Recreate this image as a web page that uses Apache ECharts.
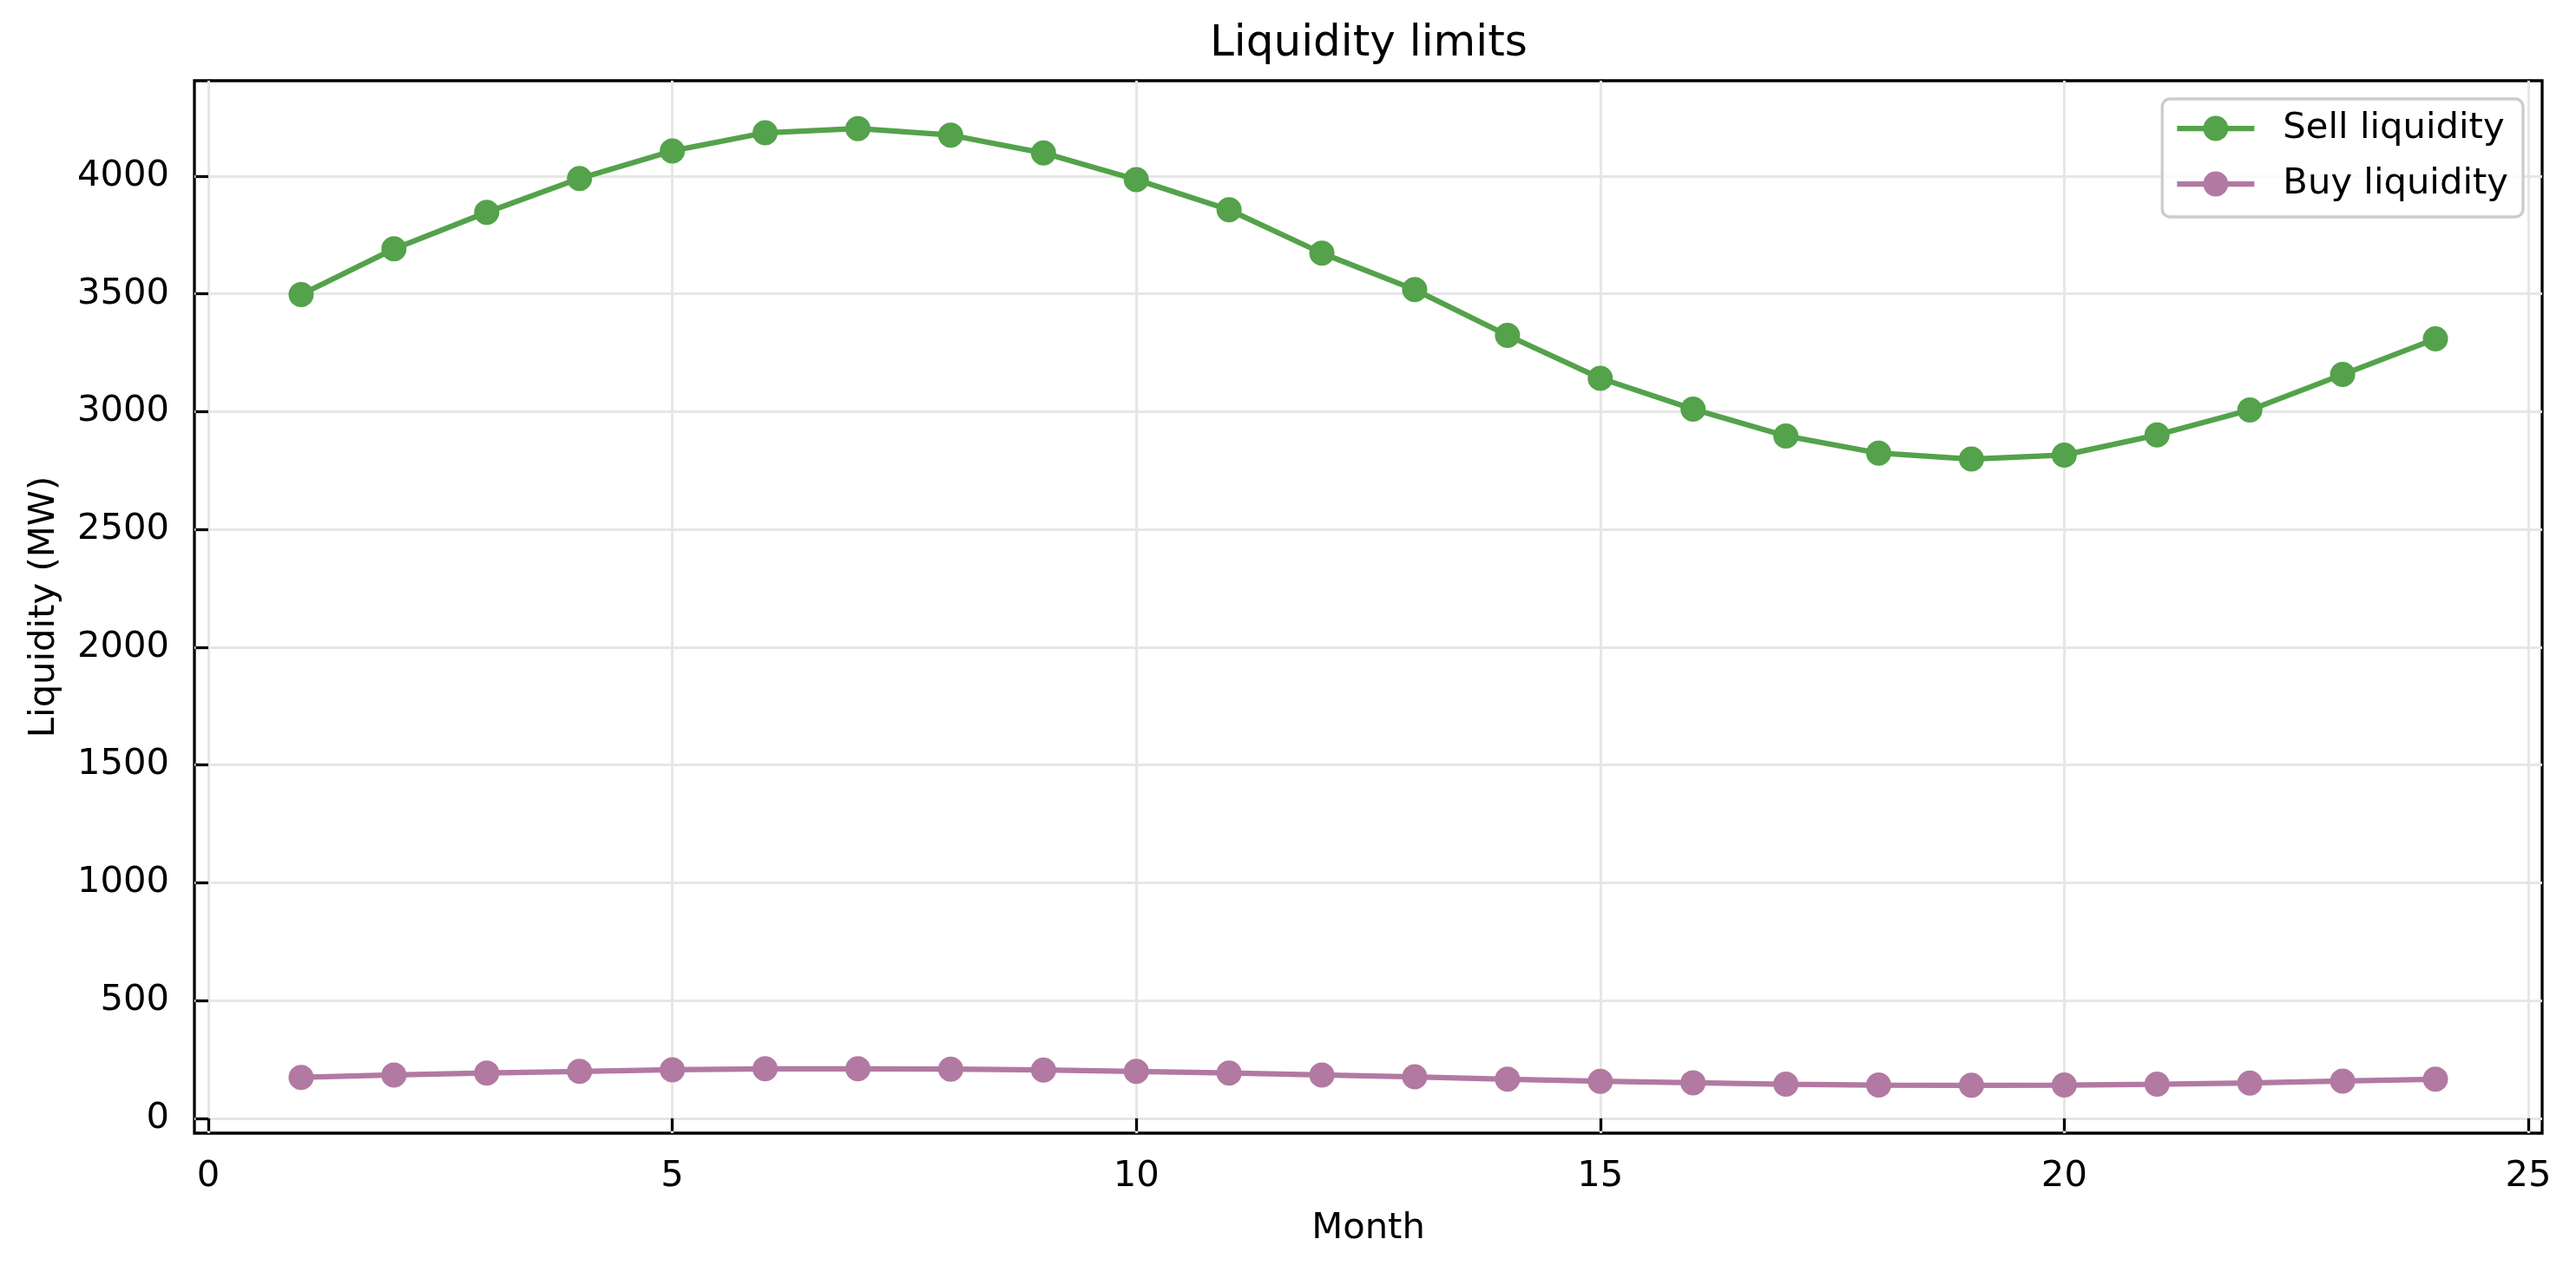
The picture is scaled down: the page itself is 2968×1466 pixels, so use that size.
<!DOCTYPE html>
<html>
<head>
<meta charset="utf-8">
<script src="https://cdn.jsdelivr.net/npm/echarts@6/dist/echarts.min.js"></script>
<style>
html,body{margin:0;padding:0;background:#fff;}
#chart{width:2968px;height:1466px;}
</style>
</head>
<body>
<div id="chart"></div>
<script>
var months = [1,2,3,4,5,6,7,8,9,10,11,12,13,14,15,16,17,18,19,20,21,22,23,24];
var sellLiquidity = [3497,3691,3846,3990,4107,4184,4202,4174,4098,3985,3857,3673,3518,3324,3142,3011,2897,2824,2799,2816,2901,3007,3158,3309];
var buyLiquidity = [174,184,192,199,206,210,210,209,205,199,192,184,176,166,157,151,145,141,140,141,145,150,158,166];
var xTicks = [0,5,10,15,20,25];
var yTicks = [0,500,1000,1500,2000,2500,3000,3500,4000];
var seriesNames = ['Sell liquidity','Buy liquidity'];
var seriesColors = ['#54a24b','#b279a2'];

var allVals = sellLiquidity.concat(buyLiquidity);
var lo = Math.min.apply(null, allVals), hi = Math.max.apply(null, allVals);
var pad = 0.05 * (hi - lo);
var xlo = months[0], xhi = months[months.length-1];
var xpad = 0.05 * (xhi - xlo);

var FONT = 'DejaVu Sans';
var chart = echarts.init(document.getElementById('chart'), null, {renderer:'canvas'});
function pairs(vals){ return months.map(function(m,i){ return [m, vals[i]]; }); }
function plain(v){ return String(Math.round(v)); }

chart.setOption({
  animation: false,
  backgroundColor: '#ffffff',
  title: {
    text: 'Liquidity limits',
    left: 1394, top: 26, textAlign: 'left',
    padding: 0,
    textStyle: {fontFamily: FONT, fontSize: 50, fontWeight: 'normal', color: '#000'}
  },
  legend: {
    orient: 'vertical',
    right: 61, top: 114,
    backgroundColor: 'rgba(255,255,255,0.8)',
    borderColor: '#cccccc', borderWidth: 3.3, borderRadius: 9,
    padding: [13, 17, 17, 14],
    itemWidth: 89, itemHeight: 36, itemGap: 22,
    lineStyle: {width: 6.25},
    textStyle: {fontFamily: FONT, fontSize: 41.7, color: '#000', padding: [0,0,0,28], lineHeight: 42},
    data: seriesNames
  },
  grid: {
    left: 224, right: 39, top: 93, bottom: 160,
    show: true, borderColor: '#000', borderWidth: 3.3, backgroundColor: 'transparent'
  },
  xAxis: {
    type: 'value', min: xlo - xpad, max: xhi + xpad,
    name: 'Month', nameLocation: 'middle', nameGap: 89,
    nameTextStyle: {fontFamily: FONT, fontSize: 41.7, color: '#000'},
    axisLine: {show: false},
    axisTick: {show: true, length: 14.6, lineStyle: {color: '#000', width: 3.3}, customValues: xTicks},
    axisLabel: {fontFamily: FONT, fontSize: 41.7, color: '#000', margin: 29, customValues: xTicks, formatter: plain},
    splitLine: {show: true, lineStyle: {color: '#e6e6e6', width: 3}}
  },
  yAxis: {
    type: 'value', min: lo - pad, max: hi + pad, splitNumber: 9,
    name: 'Liquidity (MW)', nameLocation: 'middle', nameGap: 152,
    nameTextStyle: {fontFamily: FONT, fontSize: 41.7, color: '#000'},
    axisLine: {show: false},
    axisTick: {show: true, length: 14.6, lineStyle: {color: '#000', width: 3.3}, customValues: yTicks},
    axisLabel: {fontFamily: FONT, fontSize: 41.7, color: '#000', margin: 29, customValues: yTicks, formatter: plain},
    splitLine: {show: true, lineStyle: {color: '#e6e6e6', width: 3}}
  },
  series: [
    {
      name: seriesNames[0], type: 'line', data: pairs(sellLiquidity),
      color: seriesColors[0],
      lineStyle: {width: 6.25, color: seriesColors[0]},
      symbol: 'circle', symbolSize: 29,
      itemStyle: {color: seriesColors[0]}
    },
    {
      name: seriesNames[1], type: 'line', data: pairs(buyLiquidity),
      color: seriesColors[1],
      lineStyle: {width: 6.25, color: seriesColors[1]},
      symbol: 'circle', symbolSize: 29,
      itemStyle: {color: seriesColors[1]}
    }
  ]
});
</script>
</body>
</html>
